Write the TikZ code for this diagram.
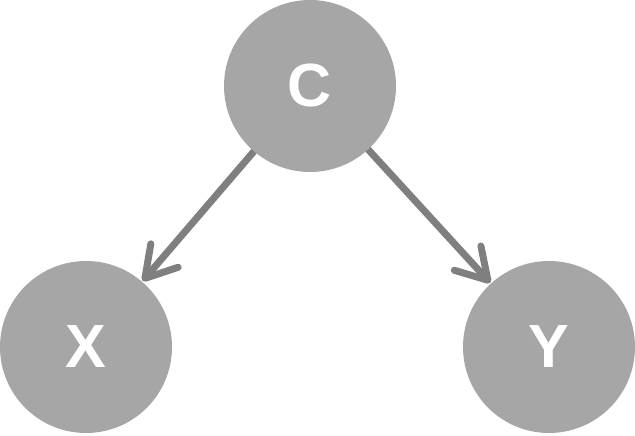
\documentclass[tikz,border=0pt]{standalone}
\usepackage{fontspec}
\setmainfont{Liberation Sans}
\usetikzlibrary{arrows.meta}
\definecolor{nodegray}{HTML}{A6A6A6}
\definecolor{arrowgray}{HTML}{7F7F7F}
\begin{document}
\begin{tikzpicture}[x=1pt,y=-1pt,
  var/.style={circle,fill=nodegray,draw=none,minimum size=172pt,inner sep=0pt,outer sep=0pt,text=white,font=\fontsize{61}{61}\selectfont\bfseries},
  edge/.style={draw=arrowgray,line width=7pt,-{Straight Barb[length=30pt,width=36pt,line cap=round,line join=round]},shorten >=1pt}]
\useasboundingbox (0,0) rectangle (635,436);
\node[var] (C) at (310,86) {C};
\node[var] (X) at (86,347) {X};
\node[var] (Y) at (549,347) {Y};
\draw[edge] (C) -- (X);
\draw[edge] (C) -- (Y);
\end{tikzpicture}
\end{document}
